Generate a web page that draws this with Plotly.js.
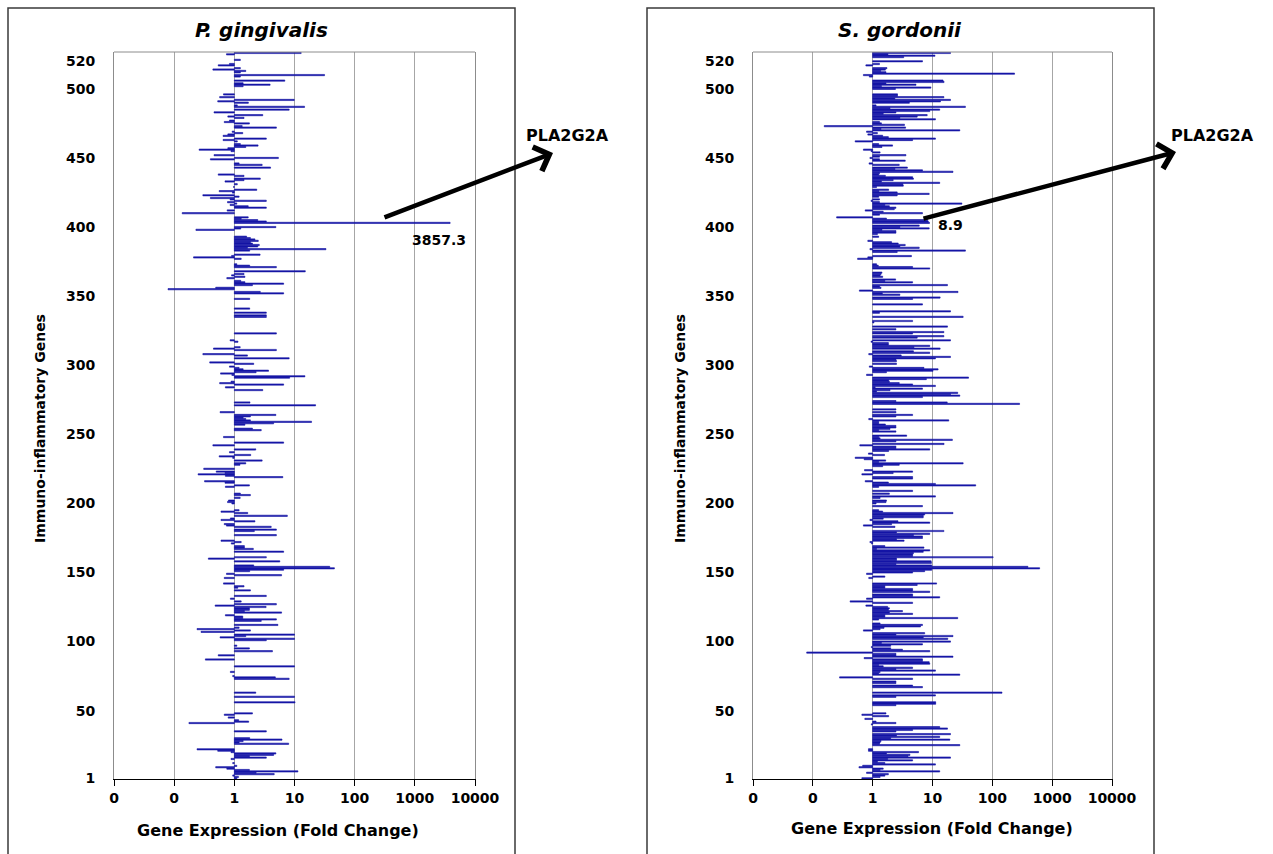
<!DOCTYPE html>
<html>
<head>
<meta charset="utf-8">
<script src="https://cdn.plot.ly/plotly-3.0.1.min.js"></script>
<style>html,body{margin:0;padding:0;background:#fff;}#chart{width:1273px;height:854px;}</style>
</head>
<body>
<div id="chart"></div>
<script>
// ---------- Data ----------
const yTickVals = [1, 50, 100, 150, 200, 250, 300, 350, 400, 450, 500, 520];
const xTickVals = [0.01, 0.1, 1, 10, 100, 1000, 10000];
const xTickText = ['0', '0', '1', '10', '100', '1000', '10000'];

// P. gingivalis: gene number and fold change
const pgGene = [
526,525,521,518,517,515,514,513,512,510,
509,506,504,503,502,496,494,492,491,490,
488,487,485,483,481,480,479,477,476,475,
473,472,469,468,467,466,464,463,462,460,
459,458,457,456,455,452,450,449,446,445,
443,438,437,435,434,433,431,429,427,426,
425,423,422,421,420,419,418,417,416,415,
414,412,410,407,406,405,404,403,400,399,
398,393,392,391,390,389,388,387,386,385,
384,383,380,379,378,377,373,372,371,368,
366,365,364,363,361,360,359,358,356,355,
353,352,348,341,338,336,335,323,318,317,
313,312,311,308,307,305,302,301,299,298,
297,296,295,294,293,292,291,288,287,286,
284,282,273,271,266,264,263,262,261,260,
259,258,257,254,253,248,244,242,239,237,
235,234,233,231,229,228,225,223,222,221,
220,219,216,215,213,212,207,206,204,202,
201,200,195,194,193,191,189,188,187,185,
184,183,181,180,177,173,172,171,169,168,
167,165,161,160,158,155,154,153,152,151,
149,148,146,142,140,139,137,133,131,129,
127,126,125,124,123,122,121,119,118,117,
116,115,112,110,109,108,107,105,104,103,
102,101,97,95,93,90,87,82,78,75,
74,73,63,60,56,48,47,45,43,42,
41,35,30,29,28,27,26,22,21,20,
19,18,17,16,15,12,10,9,8,7,
6,5,4,3,2,1
];
const pgFold = [
12.9,0.74,1.26,0.83,0.54,1.26,0.44,1.55,1.26,31.6,
1.26,6.9,1.4,3.93,1.4,0.66,0.57,9.9,0.53,1.71,
1.12,14.7,8.15,0.46,2.97,0.78,1.45,0.83,0.68,1.78,
1.35,5.0,0.92,1.38,0.78,0.65,3.4,0.65,1.12,1.26,
2.48,1.55,0.78,0.26,0.88,0.46,5.4,0.40,1.2,2.9,
4.0,0.54,1.45,2.7,1.45,0.7,1.12,0.97,2.36,0.56,
0.93,0.30,1.2,0.40,0.85,3.4,0.77,1.1,0.85,1.7,
3.4,0.76,0.136,1.7,1.3,2.45,3.4,3857.3,4.9,1.28,
0.23,1.6,1.85,2.2,2.5,1.85,2.0,2.6,2.45,1.65,
33.3,1.8,2.68,0.9,0.21,1.3,1.1,1.8,5.0,15.1,
1.45,0.9,1.5,0.75,1.28,1.5,6.6,2.0,0.49,0.079,
2.7,6.6,1.8,1.8,3.4,3.4,3.4,5.0,0.85,1.15,
1.25,0.45,5.0,0.30,1.65,8.15,0.39,2.1,0.83,1.2,
1.4,3.7,2.3,0.59,0.91,14.9,8.3,0.88,0.57,6.6,
0.71,2.97,1.82,22.4,0.58,4.9,1.85,1.4,1.55,1.85,
19.2,4.5,1.5,2.0,2.8,0.66,6.6,0.44,2.27,0.83,
1.87,0.56,0.94,2.9,1.55,1.24,0.31,0.5,0.7,0.25,
0.71,6.4,0.32,0.7,1.78,0.71,1.26,1.85,1.25,0.8,
0.77,0.91,1.2,0.6,1.67,7.6,0.86,0.6,2.2,0.68,
0.74,4.1,5.0,2.15,5.0,0.6,1.3,0.89,1.47,1.47,
2.07,6.6,3.4,0.37,5.7,2.1,38.5,46,6.6,1.8,
0.74,6.1,0.68,0.66,1.45,1.14,1.85,3.4,0.86,1.3,
5.0,0.48,3.37,1.78,1.78,1.47,6.1,0.71,1.38,1.38,
5.0,2.8,5.3,1.2,0.24,1.85,0.28,10.0,1.55,0.58,
10.0,3.4,1.1,1.78,4.3,0.54,0.33,10,0.86,0.94,
4.8,8.15,2.27,10,10.2,2.0,0.68,0.79,1.18,1.73,
0.176,3.4,1.8,6.2,1.4,1.2,8.0,0.24,0.53,0.88,
4.9,4.5,1.78,3.4,0.88,0.94,1.1,0.49,0.75,1.78,
11.4,2.3,4.6,0.94,1.17,1.1
];

// S. gordonii: gene number and fold change
const sgGene = [
526,525,524,523,520,518,517,515,514,513,
512,511,510,509,506,505,504,503,502,501,
500,496,495,494,493,492,491,490,488,487,
486,485,484,483,482,481,480,479,478,476,
475,474,473,472,471,470,469,468,467,466,
465,464,463,462,460,459,458,456,455,454,
452,451,450,449,448,446,445,443,442,441,
440,439,438,437,436,435,434,433,432,431,
430,429,427,426,425,424,423,422,420,419,
418,417,416,415,414,413,412,411,410,409,
407,406,405,404,403,401,400,399,398,397,
396,395,393,390,389,388,387,386,385,384,
383,382,379,378,377,373,372,371,370,367,
366,365,364,362,361,360,358,357,356,354,
353,352,351,349,348,344,339,338,335,332,
331,328,326,324,323,321,320,318,317,316,
315,314,313,312,310,309,308,307,306,305,
304,303,301,299,298,297,296,295,293,291,
290,289,288,287,286,285,284,283,282,281,
280,279,278,277,274,273,272,268,266,264,
263,261,260,259,258,257,256,255,254,253,
252,249,248,247,246,245,243,242,241,240,
239,238,236,235,233,232,231,230,229,228,
227,224,223,222,221,219,218,216,215,214,
213,212,209,207,205,204,202,201,200,198,
195,194,193,192,191,190,189,188,187,186,
185,184,183,180,179,178,177,176,175,174,
173,172,171,169,168,167,166,165,164,163,
162,161,160,159,158,157,156,155,154,153,
152,151,150,149,147,146,142,141,140,139,
138,137,136,134,133,132,131,129,128,126,
125,124,123,122,121,120,119,118,117,116,
113,112,111,110,109,108,106,105,104,103,
102,100,99,98,97,96,95,94,93,92,
91,90,89,88,87,86,85,84,83,82,
81,80,79,78,77,76,74,73,71,70,
68,67,63,61,60,56,55,54,48,47,
46,44,42,41,40,38,37,36,35,33,
32,31,30,29,28,27,26,25,22,21,
20,19,18,17,16,15,14,13,12,11,
10,9,8,7,6,5,4,3,2,1
];
const sgFold = [
20,1.8,11,3.3,6.8,1.3,0.77,1.73,1.63,1.36,
1.67,235,0.7,0.88,15,15.6,1.67,5.3,1.4,9.4,
2.4,2.6,2.6,15.5,2.35,20,13.6,4.1,1.14,35.5,
1.95,13.2,9.0,2.45,1.5,8.15,5.55,2.85,11.2,1.3,
1.4,3.4,0.155,3.55,1.38,28.6,0.79,1.2,0.83,1.47,
1.83,11.2,4.65,0.51,1.26,2.15,1.43,0.7,0.94,1.33,
3.6,1.3,0.9,1.3,3.5,0.87,2.78,3.8,2.36,6.8,
22,1.3,1.26,1.63,4.65,4.8,2.2,1.4,13.2,3.2,
3.25,1.16,1.85,1.27,2.57,8.8,2.57,1.26,1.3,0.94,
1.3,31,1.6,1.9,2.45,2.3,0.75,1.5,6.8,1.3,
0.25,1.7,8.25,8.5,8.9,6.0,2.85,8.8,1.43,2.45,
2.45,1.2,1.26,0.83,2.07,2.67,3.5,2.85,6.0,0.9,
35.5,2.57,4.45,0.83,0.56,1.16,1.24,4.65,9.0,1.43,
1.38,1.33,1.47,2.42,1.6,4.65,17.8,1.3,1.38,0.6,
26.7,1.45,2.85,13.4,4.65,6.8,20,1.3,32.5,4.65,
1.05,17.8,2.45,15.5,4.65,15.5,5.55,20,0.94,1.83,
1.83,9.0,4.9,13.4,4.8,9.0,0.86,3.0,20,11.2,
2.45,2.5,2.5,0.88,7.2,12.4,10.2,1.7,0.79,40,
7.9,1.85,1.9,2.78,4.65,11.2,1.1,6.8,1.95,1.16,
26.4,20,28.6,6.8,2.45,17.6,285,2.45,2.45,4.65,
2.45,0.86,18.7,1.26,1.26,1.63,2.45,2.45,1.95,1.26,
2.45,3.7,1.26,1.33,21.5,2.45,15.6,0.61,2.45,2.45,
9.0,1.85,0.85,1.58,0.51,0.72,1.65,1.26,32.5,2.78,
1.47,0.73,4.65,2.2,0.66,4.65,4.65,0.75,1.83,11.2,
52.7,1.26,4.65,1.9,11.2,1.33,1.7,1.67,1.14,6.8,
1.26,1.47,22,7.4,7.0,7.0,1.5,0.9,2.65,9.0,
2.07,0.7,2.36,15.5,2.5,9.0,4.8,6.8,6.8,2.5,
3.35,0.9,0.96,1.6,7.2,1.16,9.0,7.0,4.8,4.65,
4.65,103,2.5,2.5,9.5,9.6,2.45,9.7,393,617,
9.7,7.4,4.65,0.79,1.6,0.86,11.7,5.55,1.6,1.6,
4.65,4.65,9.0,4.65,4.65,13.2,0.79,0.42,4.65,0.77,
1.78,1.9,1.83,3.15,1.9,4.65,1.6,1.6,26.4,1.26,
1.33,6.8,6.3,1.55,1.33,0.7,7.4,2.45,22,7.0,
18,20,1.4,6.8,2.0,0.95,2.0,3.15,9.0,0.079,
2.45,2.45,22,0.72,6.8,6.8,8.8,9.0,1.26,1.5,
4.65,2.45,11.2,1.33,1.26,28.6,0.28,4.65,2.45,2.45,
4.65,6.8,145,11.2,2.45,11.3,11.3,2.45,1.67,0.66,
1.85,0.74,1.14,2.45,0.95,13.2,17.8,4.65,2.45,20,
2.5,13.2,2.0,19.5,1.38,1.33,1.3,28.6,0.85,0.85,
5.85,1.7,4.2,3.9,20,1.78,4.65,1.2,1.6,11.2,
0.68,0.59,1.5,1.33,13.2,0.79,1.83,1.6,1.33,0.66
];

// ---------- Figure ----------
const W = 1273, H = 854;
const px = v => v / W;
const py = v => 1 - v / H;
const FONT = 'DejaVu Sans';
const BAR = '#1616a6';
const bold = a => a.map(t => '<b>' + t + '</b>');

function barTrace(genes, folds, xa, ya) {
  return {
    type: 'bar', orientation: 'h',
    y: genes, x: folds.map(v => v - 1), base: 1,
    xaxis: xa, yaxis: ya, width: 0.9,
    marker: {color: BAR, line: {color: BAR, width: 0.6}},
    hoverinfo: 'skip', showlegend: false
  };
}

function xAxis(dom, anchor) {
  return {
    domain: dom, anchor: anchor, type: 'log', range: [-2, 4],
    tickmode: 'array', tickvals: xTickVals, ticktext: bold(xTickText),
    tickfont: {family: FONT, size: 14, color: '#000'},
    showgrid: true, gridcolor: '#a6a6a6', gridwidth: 1,
    showline: true, linecolor: '#000', linewidth: 1,
    ticks: 'outside', ticklen: 6, tickcolor: '#000', zeroline: false, fixedrange: true
  };
}
function yAxis(anchor) {
  return {
    domain: [py(779), py(52)], anchor: anchor, range: [0.5, 526.7],
    tickmode: 'array', tickvals: yTickVals, ticktext: bold(yTickVals.map(String)),
    tickfont: {family: FONT, size: 14, color: '#000'},
    showgrid: false, showline: true, linecolor: '#8c8c8c', linewidth: 1, mirror: true,
    ticks: 'outside', ticklen: 15, tickcolor: 'rgba(0,0,0,0)', zeroline: false, fixedrange: true
  };
}

function txt(text, x, y, size, extra) {
  return Object.assign({
    text: text, xref: 'paper', yref: 'paper', x: px(x), y: py(y),
    xanchor: 'center', yanchor: 'middle', showarrow: false,
    font: {family: FONT, size: size, color: '#000'}
  }, extra || {});
}
function arrow(hx, hy, tx, ty) {
  return {
    text: '', xref: 'paper', yref: 'paper', x: px(hx), y: py(hy),
    ax: tx - hx, ay: ty - hy, showarrow: true,
    arrowhead: 4, arrowsize: 1.1, arrowwidth: 4.5, arrowcolor: '#000', standoff: 0
  };
}

const layout = {
  width: W, height: H, margin: {l: 0, r: 0, t: 0, b: 0},
  paper_bgcolor: '#fff', plot_bgcolor: '#fff',
  bargap: 0, showlegend: false,
  xaxis: xAxis([px(114), px(475)], 'y'),
  yaxis: yAxis('x'),
  xaxis2: xAxis([px(753), px(1112)], 'y2'),
  yaxis2: yAxis('x2'),
  shapes: [
    {type: 'rect', xref: 'paper', yref: 'paper', x0: px(8), x1: px(515), y0: -0.05, y1: py(8),
     line: {color: '#3a3a3a', width: 1.5}, fillcolor: 'rgba(0,0,0,0)'},
    {type: 'rect', xref: 'paper', yref: 'paper', x0: px(647), x1: px(1154), y0: -0.05, y1: py(8),
     line: {color: '#3a3a3a', width: 1.5}, fillcolor: 'rgba(0,0,0,0)'},
    {type: 'line', xref: 'x domain', yref: 'y domain', x0: 0, x1: 1, y0: 1, y1: 1,
     line: {color: '#8c8c8c', width: 1}},
    {type: 'line', xref: 'x2 domain', yref: 'y2 domain', x0: 0, x1: 1, y0: 1, y1: 1,
     line: {color: '#8c8c8c', width: 1}}
  ],
  annotations: [
    txt('<b><i>P. gingivalis</i></b>', 261, 30, 20),
    txt('<b><i>S. gordonii</i></b>', 900, 30, 20),
    txt('<b>Immuno-inflammatory Genes</b>', 40, 429, 14, {textangle: -90}),
    txt('<b>Immuno-inflammatory Genes</b>', 680, 429, 14, {textangle: -90}),
    txt('<b>Gene Expression (Fold Change)</b>', 278, 830, 16),
    txt('<b>Gene Expression (Fold Change)</b>', 932, 828, 16),
    txt('<b>PLA2G2A</b>', 567, 135, 16),
    txt('<b>PLA2G2A</b>', 1212, 135, 16),
    txt('<b>3857.3</b>', 439, 240, 14),
    txt('<b>8.9</b>', 950, 225, 14),
    arrow(553, 153, 383, 218),
    arrow(1176, 152, 922, 219)
  ]
};

Plotly.newPlot('chart', [
  barTrace(pgGene, pgFold, 'x', 'y'),
  barTrace(sgGene, sgFold, 'x2', 'y2')
], layout, {staticPlot: true, displayModeBar: false});
</script>
</body>
</html>
